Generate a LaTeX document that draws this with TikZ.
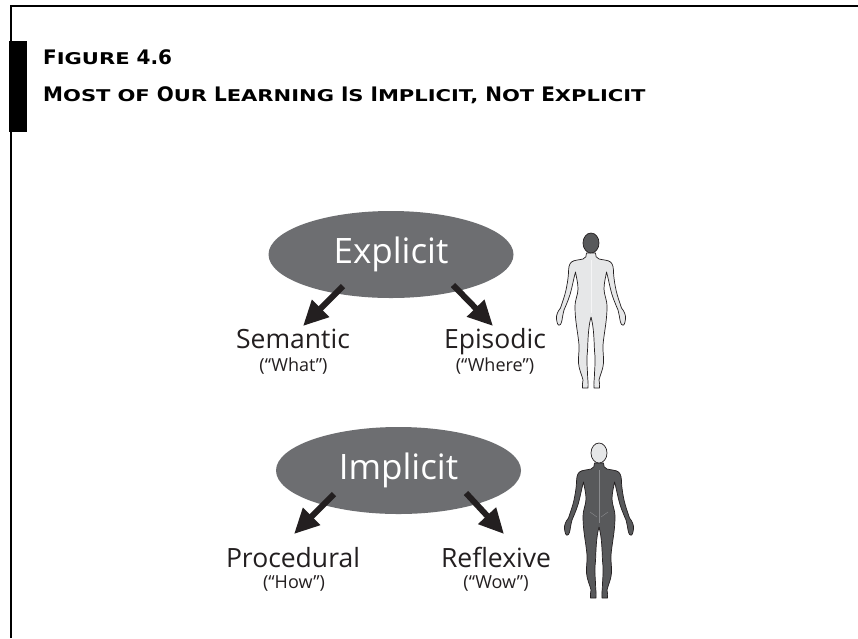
\documentclass[tikz,border=0pt]{standalone}
\usepackage{fontspec}
\usepackage{graphicx}
\setmainfont{Open Sans}
\newfontfamily\headfont{DejaVu Sans}
\usetikzlibrary{arrows.meta,shapes.geometric}

\definecolor{ovalgray}{HTML}{6D6E71}
\definecolor{inkblack}{HTML}{231F20}
\definecolor{skinlight}{HTML}{E6E7E8}
\definecolor{skindark}{HTML}{58595B}

% faked small capitals for the heading
\newcommand\capsz{\fontsize{20}{20}\selectfont}
\newcommand\smcsz{\fontsize{16.2}{16.2}\selectfont}
\newcommand\smc[1]{\scalebox{1.3}[1]{\smcsz #1}}
\newcommand\fsc[2]{{\capsz #1}\smc{#2}}

% right half of a standing human outline, head top at (0,0), y pointing down
\def\halfbody{(0,20) -- (4.5,20) .. controls (4.5,23) and (5,25) .. (8,26)
  .. controls (12,27) and (17,27) .. (19.5,29)
  .. controls (22,31) and (22.5,35) .. (22.5,40)
  .. controls (23,47) and (24,52) .. (25,57)
  .. controls (26.5,64) and (29,70) .. (30.5,75)
  .. controls (33,78) and (35,82) .. (34.5,86)
  .. controls (34,90) and (33,93) .. (31.5,92)
  .. controls (30,92) and (29,88) .. (28.5,84)
  .. controls (28,81) and (27.5,79) .. (27,77)
  .. controls (24,70) and (21,63) .. (19.5,56)
  .. controls (18,50) and (17,44) .. (15.5,39)
  .. controls (14.5,45) and (13,50) .. (13,56)
  .. controls (13,62) and (16,66) .. (16,74)
  .. controls (16,88) and (13,100) .. (12,112)
  .. controls (11.5,118) and (13,124) .. (12.5,130)
  .. controls (12,137) and (9,142) .. (8,147)
  .. controls (8,150) and (9.5,153) .. (8.5,155)
  -- (3,155)
  .. controls (2.5,150) and (3.5,146) .. (3.5,140)
  .. controls (4,132) and (4.5,125) .. (3.5,118)
  .. controls (3,108) and (3,95) .. (0,84)}

% #1 body colour, #2 head colour, #3 centre line colour
\newcommand\personfig[3]{%
  \foreach \s in {1,-1}{%
    \begin{scope}[xscale=\s]
      \fill[#1] \halfbody -- (-0.6,84) -- (-0.6,20) -- cycle;
      \draw[figline] \halfbody;
    \end{scope}}
  \draw[#3, line width=0.4pt] (0,27) -- (0,80);
  \draw[figline, fill=#2] (0,10) ellipse [x radius=8, y radius=10];
}

\tikzset{
  frameline/.style={line width=2.3pt, draw=black},
  oval/.style={ellipse, fill=ovalgray, text=white, minimum width=245pt,
    minimum height=87pt, inner sep=0pt, font=\fontsize{35}{35}\selectfont},
  lbl/.style={text=inkblack, inner sep=0pt, font=\fontsize{26.5}{26.5}\selectfont},
  sublbl/.style={text=inkblack, inner sep=0pt, font=\fontsize{18}{18}\selectfont},
  heading/.style={inner sep=0pt, text=black,
    font=\headfont\bfseries\fontsize{20}{20}\selectfont},
  bigarrow/.style={draw=inkblack, line width=6pt,
    -{Triangle[length=25pt, width=23pt]}},
  figline/.style={draw=inkblack, line width=0.7pt, line join=round},
}

\begin{document}
\begin{tikzpicture}[x=1pt, y=-1pt]
\useasboundingbox (0,0) rectangle (858,638);
\fill[white] (0,0) rectangle (858,638);

% frame and tab
\draw[frameline] (11,638) -- (11,6) -- (858,6);
\fill[black] (9,41) rectangle (27,132);

% heading
\node[heading, anchor=base west] (figno) at (43,64) {\fsc{F}{IGURE} {\capsz 4.6}};
\node[heading, anchor=base west] (figtitle) at (43,101)
  {\fsc{M}{OST} \smc{OF} \fsc{O}{UR} \fsc{L}{EARNING} \fsc{I}{S}
   \fsc{I}{MPLICIT,} \fsc{N}{OT} \fsc{E}{XPLICIT}};

% explicit memory
\node[oval] (explicit) at (391,254.5) {Explicit};
\node[lbl, anchor=base] (semantic) at (293,348) {Semantic};
\node[sublbl, anchor=base] (what) at (293.5,371) {(“What”)};
\node[lbl, anchor=base] (episodic) at (495,348) {Episodic};
\node[sublbl, anchor=base] (where) at (495,371) {(“Where”)};
\coordinate (exLtail) at (343,286);
\coordinate (exLtip) at (303,326);
\coordinate (exRtail) at (453,285);
\coordinate (exRtip) at (493,326);
\draw[bigarrow] (exLtail) -- (exLtip);
\draw[bigarrow] (exRtail) -- (exRtip);

% implicit memory
\node[oval] (implicit) at (398.5,470.5) {Implicit};
\node[lbl, anchor=base] (procedural) at (293,567) {Procedural};
\node[sublbl, anchor=base] (how) at (294,588) {(“How”)};
\node[lbl, anchor=base] (reflexive) at (496,567) {Reflexive};
\node[sublbl, anchor=base] (wow) at (496,588) {(“Wow”)};
\coordinate (imLtail) at (334,494);
\coordinate (imLtip) at (294,534);
\coordinate (imRtail) at (466,493);
\coordinate (imRtip) at (504,534);
\draw[bigarrow] (imLtail) -- (imLtip);
\draw[bigarrow] (imRtail) -- (imRtip);

% figures: front view (light) and back view (dark)
\begin{scope}[shift={(591,233)}]
  \personfig{skinlight}{skindark}{white!60!skinlight}
\end{scope}
\begin{scope}[shift={(599,443)}]
  \personfig{skindark}{skinlight}{ovalgray!80}
  \draw[ovalgray!80, line width=0.4pt] (-2,74) -- (-9,69) (2,74) -- (9,69);
\end{scope}
\end{tikzpicture}
\end{document}
